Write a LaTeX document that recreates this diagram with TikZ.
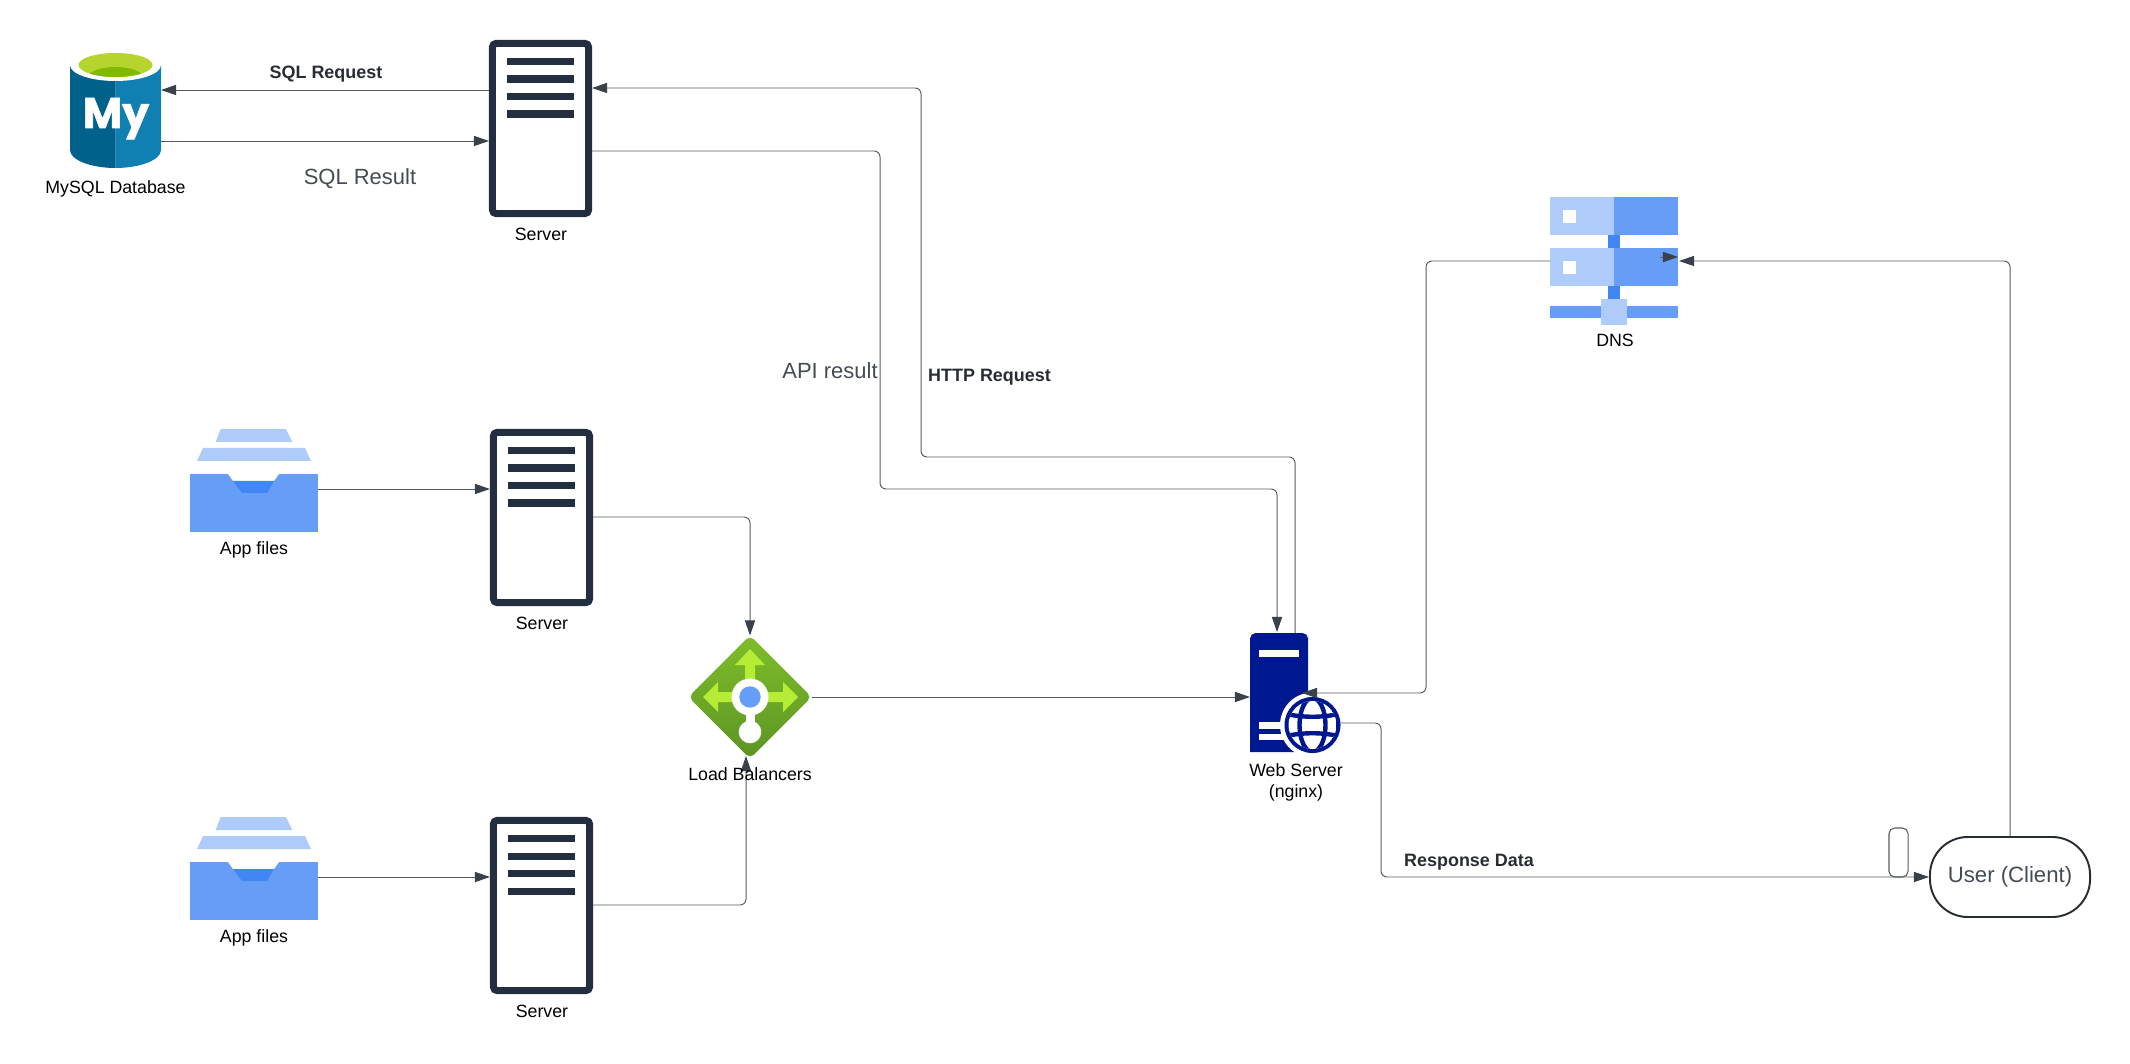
\documentclass[tikz,border=0pt]{standalone}
\usepackage{fontspec}
\setmainfont{Liberation Sans}
\newfontfamily\logofont[BoldFeatures={FakeBold=1.2}]{Poppins}
\usetikzlibrary{arrows.meta,shapes.geometric}
\definecolor{srvNavy}{HTML}{232F40}
\definecolor{lineGrey}{HTML}{555B65}
\definecolor{headGrey}{HTML}{3A414A}
\definecolor{capText}{HTML}{454B55}
\definecolor{boldText}{HTML}{282C33}
\definecolor{gLight}{HTML}{AECBFA}
\definecolor{gMid}{HTML}{669DF6}
\definecolor{gDeep}{HTML}{4285F4}
\definecolor{webNavy}{HTML}{00188F}
\definecolor{lbLime}{HTML}{B4EC36}
\definecolor{lbTop}{HTML}{80BE2A}
\definecolor{lbBottom}{HTML}{5C9424}
\definecolor{sqlDark}{HTML}{00618A}
\definecolor{sqlBlue}{HTML}{107FB1}
\definecolor{sqlRim}{HTML}{B5D42D}
\definecolor{sqlWell}{HTML}{7FBA00}
\tikzset{
	link/.style={draw=lineGrey, line width=.28pt, rounded corners=1.7pt, -{Triangle[length=4.3pt,width=2.9pt,color=headGrey]}},
	iconlabel/.style={font=\fontsize{5.05}{6.2}\selectfont, text=black, align=center, inner sep=0pt},
	boldlabel/.style={font=\fontsize{5.1}{6.2}\selectfont\bfseries, text=boldText, inner sep=0pt},
	biglabel/.style={font=\fontsize{6.25}{7.5}\selectfont, text=capText, inner sep=0pt},
	serverbox/.style={draw=srvNavy, fill=white, line width=.07cm, rounded corners=1pt, minimum width=.96cm, minimum height=1.70cm, inner sep=0pt}
}
\begin{document}
\begin{tikzpicture}[x=.01cm,y=-.01cm]
	\useasboundingbox (0,0) rectangle (2130,1064);

	% database
	\node (mysql) [minimum width=.91cm, minimum height=1.03cm, inner sep=0pt, outer sep=0pt] at (115.5,116.5) {};
	\fill [sqlBlue] (115.5,65) -- (161,65) -- (161,150) .. controls (161,160) and (140,168) .. (115.5,168) -- cycle;
	\fill [sqlDark] (115.5,65) -- (70,65) -- (70,150) .. controls (70,160) and (91,168) .. (115.5,168) -- cycle;
	\fill [white] (115.5,65) ellipse [x radius=45.5, y radius=16];
	\fill [sqlRim] (115.5,65) ellipse [x radius=37, y radius=12];
	\begin{scope}
		\clip (115.5,65) ellipse [x radius=37, y radius=12];
		\fill [sqlWell] (115.5,79) ellipse [x radius=29, y radius=12];
	\end{scope}
	\node (mylogo) [text=white, inner sep=0pt, font=\fontsize{12.2}{12}\logofont\bfseries, anchor=base] at (116,128) {My};

	% servers
	\foreach \name/\xc/\yt in {srvA/540.5/40, srvB/541.5/429, srvC/541.5/817} {
		\node (\name) [serverbox] at (\xc,\yt+88.5) {};
		\foreach \off in {18,35.5,53,70.5}
			\fill [srvNavy] (\xc-33.5,\yt+\off) rectangle (\xc+33.5,\yt+\off+7.4);
	}

	% app file trays
	\foreach \name/\yt in {appA/0, appB/388} {
		\node (\name) [fill=gMid, minimum width=1.28cm, minimum height=.58cm, inner sep=0pt, outer sep=0pt] at (254,503+\yt) {};
		\fill [gLight] (220.7,429+\yt) -- (286,429+\yt) -- (292.3,442+\yt) -- (215.7,442+\yt) -- cycle;
		\fill [gLight] (203,448+\yt) -- (305,448+\yt) -- (311,461+\yt) -- (197,461+\yt) -- cycle;
		\fill [white] (228,474+\yt) -- (279,474+\yt) -- (274,481+\yt) -- (233,481+\yt) -- cycle;
		\fill [gDeep] (233,481+\yt) -- (274,481+\yt) -- (267,493+\yt) -- (242,493+\yt) -- cycle;
	}

	% load balancer
	\node (lb) [diamond, rounded corners=1.5pt, top color=lbTop, bottom color=lbBottom, minimum width=1.23cm, minimum height=1.23cm, inner sep=0pt, outer sep=0pt] at (750,697) {};
	\fill [lbLime] (750,649) -- (765,665) -- (755,665) -- (755,692) -- (745,692) -- (745,665) -- (735,665) -- cycle;
	\fill [lbLime] (703,697) -- (718,682) -- (718,692) -- (783,692) -- (783,682) -- (798,697) -- (783,712) -- (783,702) -- (718,702) -- (718,712) -- cycle;
	\fill [white] (745.5,710) rectangle (755,725);
	\fill [white] (750,697) circle [radius=18.5];
	\fill [white] (750,732) circle [radius=11.3];
	\fill [gMid] (750,697) circle [radius=10.7];

	% web server
	\node (web) [minimum width=.58cm, minimum height=1.19cm, inner sep=0pt, outer sep=0pt] at (1279,692.5) {};
	\fill [webNavy, rounded corners=1.6pt] (1250,752) [sharp corners] -- (1250,640) [rounded corners=1.6pt] -- (1250,633) -- (1308,633) -- (1308,640) [sharp corners] -- (1308,752) -- cycle;
	\fill [white] (1259,650) rectangle (1299,657);
	\fill [white] (1259,722) rectangle (1290,729);
	\fill [white] (1259,734) rectangle (1290,740);
	\fill [white] (1312.5,725) circle [radius=32.5];
	\node (globe) [circle, fill=webNavy, minimum size=.56cm, inner sep=0pt, outer sep=0pt] at (1312.5,725) {};
	\begin{scope}
		\clip (1312.5,725) circle [radius=24];
		\fill [white] (1312.5,725) circle [radius=24];
		\draw [webNavy, line width=1.25pt] (1312.5,725) ellipse [x radius=13, y radius=27];
		\draw [webNavy, line width=1.25pt] (1283,713) .. controls (1300,718) and (1325,718) .. (1342,713);
		\draw [webNavy, line width=1.25pt] (1283,737) .. controls (1300,732) and (1325,732) .. (1342,737);
	\end{scope}

	% dns
	\node (dns) [minimum width=1.28cm, minimum height=1.28cm, inner sep=0pt, outer sep=0pt] at (1614,261) {};
	\fill [gDeep] (1608,235) rectangle (1620,248);
	\fill [gDeep] (1608,286) rectangle (1620,300);
	\fill [gLight] (1550,197) rectangle (1614,235);
	\fill [gMid] (1614,197) rectangle (1678,235);
	\fill [gLight] (1550,248) rectangle (1614,286);
	\fill [gMid] (1614,248) rectangle (1678,286);
	\fill [gMid] (1550,306) rectangle (1678,318);
	\fill [gLight] (1601,299) rectangle (1627,325);
	\fill [white] (1563,210) rectangle (1576,223);
	\fill [white] (1563,261) rectangle (1576,274);

	% client
	\node (user) [draw=boldText, line width=.55pt, rounded corners=10.8pt, minimum width=1.6cm, minimum height=.8cm, inner sep=0pt, font=\fontsize{6.3}{7.5}\selectfont, text=capText] at (2010,877) {User (Client)};
	\node (gapbox) [draw=lineGrey, line width=.3pt, rounded corners=1.6pt, minimum width=.19cm, minimum height=.49cm, inner sep=0pt] at (1898.5,852.5) {};

	\coordinate (dnsEnd) at (1678,257);
	\coordinate (dnsEndTail) at (1660,257);
	\coordinate (dnsIn) at (1679,261);
	\coordinate (webIn) at (1302,693);

	% connectors
	\draw [link] (srvA.west |- 0,90) -- (mysql.east |- 0,90);
	\draw [link] (mysql.east |- 0,141) -- (srvA.west |- 0,141);
	\draw [link] (web.north -| 1295,0) -- (1295,457) -- (921,457) -- (921,88) -- (srvA.east |- 0,88);
	\draw [link] (srvA.east |- 0,151) -- (880,151) -- (880,489) -- (1277,489) -- (1277,632);
	\draw [link] (appA.east |- 0,489) -- (srvB.west |- 0,489);
	\draw [link] (appB.east |- 0,877) -- (srvC.west |- 0,877);
	\draw [link] (srvB.east |- 0,517) -- (750,517) -- (lb.north);
	\draw [link] (srvC.east |- 0,905) -- (746,905) -- (746,756);
	\draw [link] (lb.east) -- (web.west |- lb.east);
	\draw [link] (dns.west) -- (1426,261) -- (1426,693) -- (webIn);
	\draw [link] (dnsEndTail) -- (dnsEnd);
	\draw [link] (user.north) -- (2010,261) -- (dnsIn);
	\draw [link] (globe.east |- 0,723) -- (1381,723) -- (1381,877) -- (user.west);

	% labels
	\node (mysqlLbl) [iconlabel] at (115.5,188.5) {MySQL Database};
	\node (srvALbl) [iconlabel] at (541,234) {Server};
	\node (srvBLbl) [iconlabel] at (542,623) {Server};
	\node (srvCLbl) [iconlabel] at (542,1011) {Server};
	\node (appALbl) [iconlabel] at (254,549.5) {App files};
	\node (appBLbl) [iconlabel] at (254,937.5) {App files};
	\node (lbLbl) [iconlabel] at (750,774) {Load Balancers};
	\node (webLbl) [iconlabel] at (1296,782.5) {Web Server\\(nginx)};
	\node (dnsLbl) [iconlabel] at (1615,340) {DNS};
	\node (sqlReq) [boldlabel] at (326,74.5) {SQL Request};
	\node (sqlRes) [biglabel] at (360,178.5) {SQL Result};
	\node (apiRes) [biglabel] at (830,371) {API result};
	\node (httpReq) [boldlabel] at (989.5,377.5) {HTTP Request};
	\node (respData) [boldlabel] at (1469,862.5) {Response Data};
\end{tikzpicture}
\end{document}
